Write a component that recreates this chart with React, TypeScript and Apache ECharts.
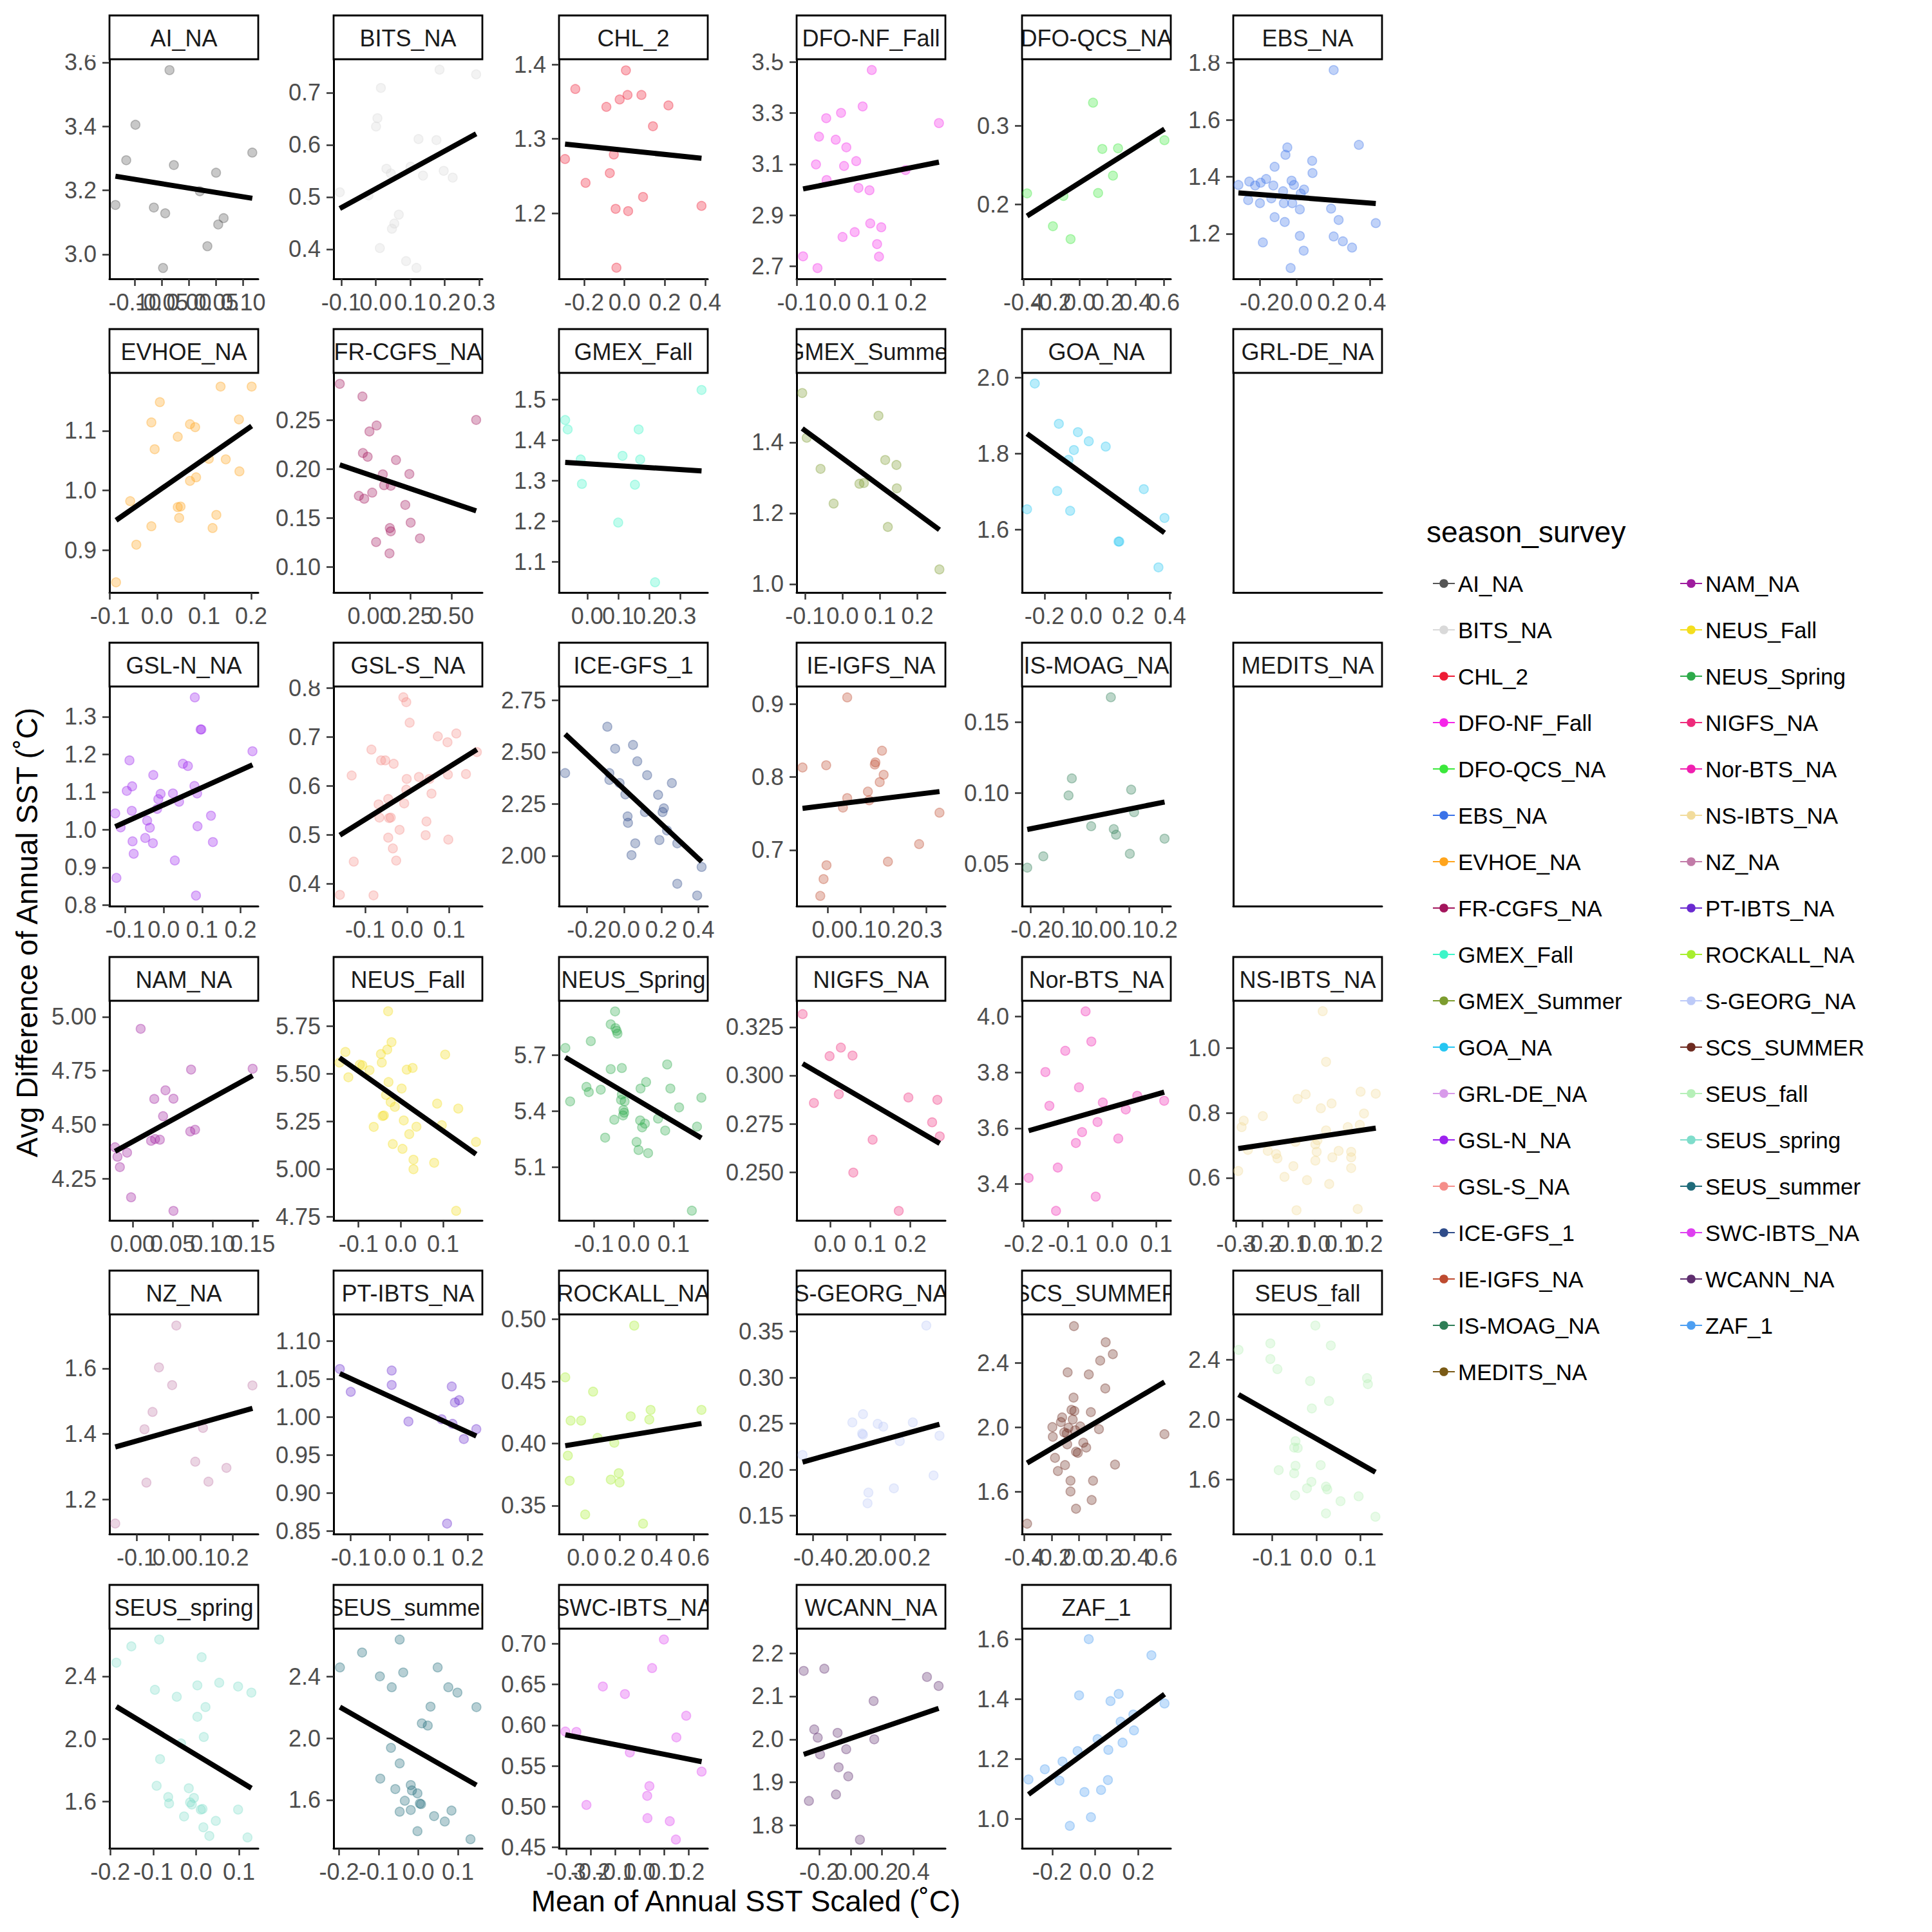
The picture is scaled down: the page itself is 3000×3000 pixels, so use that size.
import React, { useEffect, useRef } from "react";
import * as echarts from "echarts";

const FONT = '"Liberation Sans", Arial, Helvetica, sans-serif';

const SURVEYS = [
  "AI_NA", "BITS_NA", "CHL_2", "DFO-NF_Fall", "DFO-QCS_NA", "EBS_NA",
  "EVHOE_NA", "FR-CGFS_NA", "GMEX_Fall", "GMEX_Summer", "GOA_NA", "GRL-DE_NA",
  "GSL-N_NA", "GSL-S_NA", "ICE-GFS_1", "IE-IGFS_NA", "IS-MOAG_NA", "MEDITS_NA",
  "NAM_NA", "NEUS_Fall", "NEUS_Spring", "NIGFS_NA", "Nor-BTS_NA", "NS-IBTS_NA",
  "NZ_NA", "PT-IBTS_NA", "ROCKALL_NA", "S-GEORG_NA", "SCS_SUMMER", "SEUS_fall",
  "SEUS_spring", "SEUS_summer", "SWC-IBTS_NA", "WCANN_NA", "ZAF_1",
];

const SURVEY_COLORS = [
  "#555555", "#D9D9D9", "#EE1C35", "#F524E8", "#3BE83B", "#3A72E8",
  "#FFA41C", "#A3155C", "#3DF5C8", "#7C9C2E", "#25C6F2", "#D89AEA",
  "#9C22EE", "#F58E8A", "#2F4C8A", "#BE4B30", "#2E7E56", "#7A5A15",
  "#9E1C9E", "#F4DE1E", "#2DAA4A", "#EE2A7B", "#F01FB0", "#F2DC9C",
  "#C27BA8", "#6A2AD0", "#A7EE2E", "#BDCAF8", "#6E2B20", "#B6F0B8",
  "#7FDDCB", "#1F6B7A", "#DE3FF0", "#5E2D6E", "#4D9FF2",
];

const X_TITLE = "Mean of Annual SST Scaled (˚C)";
const Y_TITLE = "Avg Difference of Annual SST (˚C)";
const LEGEND_TITLE = "season_survey";

// ---------------- data per panel ----------------
const AI_NA_PTS = [[-0.136,3.154],[-0.116,3.294],[-0.099,3.405],[-0.065,3.146],[-0.044,3.128],[-0.048,2.957],[-0.036,3.576],[-0.028,3.279],[0.020,3.197],[0.034,3.025],[0.050,3.255],[0.054,3.093],[0.064,3.113],[0.117,3.318]];
const AI_NA_FIT = [3.244, 3.175];
const AI_NA_XR = [-0.147, 0.128];
const AI_NA_YR = [2.923, 3.610];
const AI_NA_XT = ["-0.10","-0.05","0.00","0.05","0.10"];
const AI_NA_YT = ["3.0","3.2","3.4","3.6"];

const BITS_NA_PTS = [[-0.104,0.509],[0.015,0.709],[0.005,0.651],[0.001,0.635],[0.031,0.554],[0.044,0.545],[0.067,0.466],[0.054,0.449],[0.047,0.439],[0.012,0.402],[-0.021,0.503],[0.101,0.558],[0.124,0.611],[0.137,0.541],[0.176,0.609],[0.197,0.550],[0.223,0.537],[0.185,0.744],[0.291,0.735],[0.088,0.377],[0.118,0.364]];
const BITS_NA_FIT = [0.478, 0.621];
const BITS_NA_XR = [-0.122, 0.309];
const BITS_NA_YR = [0.343, 0.764];
const BITS_NA_XT = ["-0.1","0.0","0.1","0.2","0.3"];
const BITS_NA_YT = ["0.4","0.5","0.6","0.7"];

const CHL_2_PTS = [[-0.295,1.273],[-0.244,1.367],[-0.193,1.241],[-0.090,1.343],[-0.073,1.254],[-0.053,1.279],[-0.044,1.206],[-0.040,1.127],[-0.024,1.353],[0.007,1.392],[0.015,1.359],[0.018,1.203],[0.084,1.359],[0.092,1.222],[0.141,1.317],[0.218,1.345],[0.382,1.210]];
const CHL_2_FIT = [1.293, 1.274];
const CHL_2_XR = [-0.325, 0.413];
const CHL_2_YR = [1.112, 1.407];
const CHL_2_XT = ["-0.2","0.0","0.2","0.4"];
const CHL_2_YT = ["1.2","1.3","1.4"];

const DFO_NF_PTS = [[-0.084,2.739],[-0.050,3.099],[-0.046,2.693],[-0.042,3.208],[-0.023,3.280],[-0.022,3.038],[0.002,3.196],[0.016,3.301],[0.020,2.815],[0.024,3.093],[0.030,3.166],[0.052,2.834],[0.056,3.112],[0.062,3.007],[0.073,3.326],[0.091,2.998],[0.093,2.868],[0.097,3.469],[0.111,2.787],[0.116,2.738],[0.122,2.853],[0.186,3.077],[0.274,3.261]];
const DFO_NF_FIT = [3.003, 3.108];
const DFO_NF_XR = [-0.101, 0.291];
const DFO_NF_YR = [2.651, 3.511];
const DFO_NF_XT = ["-0.1","0.0","0.1","0.2"];
const DFO_NF_YT = ["2.7","2.9","3.1","3.3","3.5"];

const DFO_QCS_PTS = [[-0.373,0.2142],[-0.189,0.1725],[-0.114,0.2109],[-0.063,0.1561],[0.097,0.3294],[0.133,0.2147],[0.163,0.2706],[0.239,0.2368],[0.275,0.2714],[0.606,0.2817]];
const DFO_QCS_FIT = [0.1856, 0.2959];
const DFO_QCS_XR = [-0.409, 0.651];
const DFO_QCS_YR = [0.1057, 0.3845];
const DFO_QCS_XT = ["-0.4","-0.2","0.0","0.2","0.4","0.6"];
const DFO_QCS_YT = ["0.2","0.3"];

const EBS_NA_PTS = [[-0.316,1.371],[-0.257,1.383],[-0.263,1.318],[-0.225,1.369],[-0.199,1.307],[-0.195,1.379],[-0.165,1.392],[-0.183,1.169],[-0.137,1.324],[-0.126,1.369],[-0.119,1.435],[-0.119,1.258],[-0.073,1.349],[-0.069,1.307],[-0.064,1.241],[-0.060,1.477],[-0.050,1.503],[-0.027,1.386],[-0.023,1.307],[-0.014,1.371],[0.018,1.192],[0.018,1.285],[0.023,1.341],[0.041,1.355],[0.039,1.140],[-0.032,1.079],[0.085,1.456],[0.087,1.413],[0.188,1.288],[0.202,1.190],[0.202,1.775],[0.229,1.248],[0.252,1.173],[0.302,1.151],[0.339,1.512],[0.431,1.237]];
const EBS_NA_FIT = [1.343, 1.306];
const EBS_NA_XR = [-0.344, 0.465];
const EBS_NA_YR = [1.041, 1.813];
const EBS_NA_XT = ["-0.2","0.0","0.2","0.4"];
const EBS_NA_YT = ["1.2","1.4","1.6","1.8"];

const EVHOE_PTS = [[-0.087,0.846],[-0.057,0.982],[-0.044,0.909],[-0.012,1.114],[-0.012,0.940],[-0.005,1.069],[0.006,1.148],[0.044,1.090],[0.044,0.972],[0.047,0.954],[0.050,0.973],[0.070,1.111],[0.070,1.016],[0.081,1.106],[0.083,1.022],[0.110,1.053],[0.118,0.937],[0.126,0.959],[0.135,1.174],[0.146,1.052],[0.174,1.119],[0.175,1.032],[0.201,1.174]];
const EVHOE_FIT = [0.950, 1.108];
const EVHOE_XR = [-0.101, 0.215];
const EVHOE_YR = [0.829, 1.197];
const EVHOE_XT = ["-0.1","0.0","0.1","0.2"];
const EVHOE_YT = ["0.9","1.0","1.1"];

const FR_CGFS_PTS = [[-0.185,0.2867],[-0.046,0.2738],[0.041,0.2443],[-0.003,0.2382],[-0.043,0.2163],[-0.014,0.2124],[-0.068,0.1726],[-0.035,0.1697],[0.014,0.1759],[0.079,0.1945],[0.087,0.1835],[0.128,0.1829],[0.160,0.2091],[0.242,0.1949],[0.217,0.1634],[0.250,0.1453],[0.122,0.1398],[0.128,0.1365],[0.038,0.1256],[0.120,0.1140],[0.307,0.1293],[0.652,0.2500]];
const FR_CGFS_FIT = [0.2043, 0.1573];
const FR_CGFS_XR = [-0.223, 0.690];
const FR_CGFS_YR = [0.0742, 0.2979];
const FR_CGFS_XT = ["0.00","0.25","0.50"];
const FR_CGFS_YT = ["0.10","0.15","0.20","0.25"];

const GMEX_FALL_PTS = [[-0.071,1.449],[-0.063,1.426],[-0.021,1.352],[-0.017,1.292],[0.100,1.197],[0.114,1.361],[0.166,1.426],[0.171,1.352],[0.154,1.290],[0.219,1.050],[0.369,1.523]];
const GMEX_FALL_FIT = [1.345, 1.324];
const GMEX_FALL_XR = [-0.091, 0.389];
const GMEX_FALL_YR = [1.025, 1.565];
const GMEX_FALL_XT = ["0.0","0.1","0.2","0.3"];
const GMEX_FALL_YT = ["1.1","1.2","1.3","1.4","1.5"];

const GMEX_SUMMER_PTS = [[-0.108,1.539],[-0.096,1.413],[-0.059,1.325],[-0.024,1.227],[0.045,1.283],[0.057,1.285],[0.096,1.475],[0.114,1.350],[0.144,1.336],[0.145,1.270],[0.121,1.161],[0.259,1.041]];
const GMEX_SUMMER_FIT = [1.439, 1.153];
const GMEX_SUMMER_XR = [-0.123, 0.275];
const GMEX_SUMMER_YR = [0.976, 1.596];
const GMEX_SUMMER_XT = ["-0.1","0.0","0.1","0.2"];
const GMEX_SUMMER_YT = ["1.0","1.2","1.4"];

const GOA_NA_PTS = [[-0.283,1.654],[-0.246,1.985],[-0.139,1.702],[-0.131,1.879],[-0.085,1.784],[-0.077,1.650],[-0.059,1.810],[-0.040,1.857],[0.012,1.833],[0.093,1.819],[0.154,1.569],[0.158,1.569],[0.275,1.707],[0.345,1.501],[0.374,1.631]];
const GOA_NA_FIT = [1.853, 1.592];
const GOA_NA_XR = [-0.307, 0.404];
const GOA_NA_YR = [1.435, 2.013];
const GOA_NA_XT = ["-0.2","0.0","0.2","0.4"];
const GOA_NA_YT = ["1.6","1.8","2.0"];

const GSL_N_PTS = [[-0.126,1.043],[-0.123,0.872],[-0.112,1.006],[-0.096,1.103],[-0.089,1.184],[-0.083,1.050],[-0.082,1.115],[-0.081,0.969],[-0.078,0.936],[-0.048,0.978],[-0.043,1.024],[-0.036,1.005],[-0.028,0.964],[-0.027,1.145],[-0.017,1.055],[-0.014,1.081],[-0.008,1.095],[0.024,1.096],[0.029,0.918],[0.040,1.074],[0.050,1.175],[0.063,1.169],[0.080,1.116],[0.081,1.351],[0.084,0.825],[0.087,1.096],[0.088,1.009],[0.096,1.266],[0.098,1.266],[0.123,1.037],[0.128,0.967],[0.231,1.208]];
const GSL_N_FIT = [1.008, 1.172];
const GSL_N_XR = [-0.141, 0.246];
const GSL_N_YR = [0.797, 1.380];
const GSL_N_XT = ["-0.1","0.0","0.1","0.2"];
const GSL_N_YT = ["0.8","0.9","1.0","1.1","1.2","1.3"];

const GSL_S_PTS = [[-0.160,0.377],[-0.132,0.621],[-0.127,0.445],[-0.085,0.674],[-0.080,0.376],[-0.062,0.652],[-0.052,0.652],[-0.068,0.562],[-0.066,0.535],[-0.045,0.573],[-0.043,0.534],[-0.039,0.535],[-0.045,0.494],[-0.034,0.472],[-0.032,0.645],[-0.026,0.447],[-0.018,0.510],[-0.009,0.781],[-0.002,0.771],[-0.007,0.564],[-0.001,0.614],[-0.002,0.592],[0.006,0.729],[0.028,0.618],[0.046,0.527],[0.044,0.499],[0.053,0.614],[0.058,0.584],[0.073,0.701],[0.096,0.689],[0.097,0.623],[0.098,0.490],[0.117,0.707],[0.140,0.624],[0.166,0.669]];
const GSL_S_FIT = [0.499, 0.674];
const GSL_S_XR = [-0.175, 0.179];
const GSL_S_YR = [0.354, 0.803];
const GSL_S_XT = ["-0.1","0.0","0.1"];
const GSL_S_YT = ["0.4","0.5","0.6","0.7","0.8"];

const ICE_GFS_PTS = [[-0.317,2.399],[-0.090,2.623],[-0.079,2.399],[-0.079,2.366],[-0.048,2.517],[-0.024,2.351],[0.007,2.296],[0.019,2.190],[0.021,2.159],[0.048,2.535],[0.040,2.003],[0.060,2.060],[0.071,2.456],[0.112,2.211],[0.124,2.389],[0.183,2.294],[0.190,2.076],[0.207,2.211],[0.214,2.229],[0.231,2.122],[0.257,2.351],[0.286,2.060],[0.286,1.865],[0.393,1.808],[0.417,1.946]];
const ICE_GFS_FIT = [2.587, 1.972];
const ICE_GFS_XR = [-0.350, 0.450];
const ICE_GFS_YR = [1.757, 2.817];
const ICE_GFS_XT = ["-0.2","0.0","0.2","0.4"];
const ICE_GFS_YT = ["2.00","2.25","2.50","2.75"];

const IE_IGFS_PTS = [[-0.077,0.813],[-0.023,0.637],[-0.013,0.660],[-0.005,0.816],[-0.004,0.679],[0.046,0.758],[0.059,0.771],[0.059,0.909],[0.122,0.780],[0.126,0.768],[0.145,0.820],[0.143,0.817],[0.158,0.793],[0.165,0.836],[0.170,0.803],[0.183,0.684],[0.278,0.708],[0.340,0.751]];
const IE_IGFS_FIT = [0.757, 0.780];
const IE_IGFS_XR = [-0.095, 0.358];
const IE_IGFS_YR = [0.623, 0.924];
const IE_IGFS_XT = ["0.0","0.1","0.2","0.3"];
const IE_IGFS_YT = ["0.7","0.8","0.9"];

const IS_MOAG_PTS = [[-0.210,0.0473],[-0.161,0.0553],[-0.084,0.0982],[-0.074,0.1102],[-0.015,0.0765],[0.045,0.1674],[0.054,0.0745],[0.061,0.0705],[0.103,0.0571],[0.107,0.1023],[0.116,0.0864],[0.209,0.0677]];
const IS_MOAG_FIT = [0.0742, 0.0936];
const IS_MOAG_XR = [-0.226, 0.228];
const IS_MOAG_YR = [0.0202, 0.175];
const IS_MOAG_XT = ["-0.2","-0.1","0.0","0.1","0.2"];
const IS_MOAG_YT = ["0.05","0.10","0.15"];

const NAM_NA_PTS = [[-0.022,4.395],[-0.019,4.351],[-0.016,4.303],[-0.007,4.370],[-0.002,4.163],[0.010,4.944],[0.023,4.425],[0.027,4.619],[0.028,4.433],[0.034,4.430],[0.038,4.539],[0.041,4.659],[0.051,4.620],[0.051,4.100],[0.072,4.468],[0.078,4.476],[0.073,4.755],[0.150,4.759]];
const NAM_NA_FIT = [4.376, 4.727];
const NAM_NA_XR = [-0.029, 0.157];
const NAM_NA_YR = [4.056, 5.074];
const NAM_NA_XT = ["0.00","0.05","0.10","0.15"];
const NAM_NA_YT = ["4.25","4.50","4.75","5.00"];

const NEUS_FALL_PTS = [[-0.145,5.558],[-0.131,5.614],[-0.124,5.481],[-0.097,5.547],[-0.091,5.544],[-0.074,5.518],[-0.064,5.221],[-0.047,5.603],[-0.045,5.558],[-0.043,5.278],[-0.040,5.281],[-0.032,5.626],[-0.030,5.827],[-0.029,5.456],[-0.022,5.665],[-0.035,5.388],[-0.024,5.351],[-0.019,5.131],[-0.014,5.326],[0.002,5.422],[0.004,5.106],[0.007,5.255],[0.014,5.521],[0.020,5.183],[0.028,5.530],[0.030,5.049],[0.030,4.999],[0.037,5.222],[0.079,5.033],[0.086,5.343],[0.097,5.230],[0.105,5.600],[0.131,4.781],[0.136,5.317],[0.178,5.142]];
const NEUS_FALL_FIT = [5.583, 5.078];
const NEUS_FALL_XR = [-0.159, 0.193];
const NEUS_FALL_YR = [4.731, 5.882];
const NEUS_FALL_XT = ["-0.1","0.0","0.1"];
const NEUS_FALL_YT = ["4.75","5.00","5.25","5.50","5.75"];

const NEUS_SPRING_PTS = [[-0.172,5.738],[-0.160,5.452],[-0.119,5.530],[-0.113,5.502],[-0.108,5.775],[-0.083,5.515],[-0.072,5.258],[-0.058,5.865],[-0.058,5.625],[-0.049,5.354],[-0.047,5.934],[-0.046,5.844],[-0.043,5.830],[-0.041,5.815],[-0.032,5.460],[-0.030,5.631],[-0.030,5.489],[-0.026,5.406],[-0.027,5.377],[-0.024,5.392],[-0.023,5.452],[0.007,5.235],[0.012,5.192],[0.017,5.521],[0.016,5.350],[0.021,5.313],[0.028,5.333],[0.031,5.556],[0.036,5.175],[0.061,5.360],[0.079,5.296],[0.084,5.650],[0.092,5.521],[0.114,5.420],[0.146,4.867],[0.159,5.317],[0.170,5.472]];
const NEUS_SPRING_FIT = [5.688, 5.256];
const NEUS_SPRING_XR = [-0.188, 0.186];
const NEUS_SPRING_YR = [4.815, 5.991];
const NEUS_SPRING_XT = ["-0.1","0.0","0.1"];
const NEUS_SPRING_YT = ["5.1","5.4","5.7"];

const NIGFS_PTS = [[-0.068,0.3317],[-0.040,0.2858],[-0.001,0.3100],[0.022,0.2903],[0.027,0.3144],[0.056,0.3103],[0.058,0.2498],[0.106,0.2668],[0.171,0.2300],[0.195,0.2886],[0.254,0.2758],[0.267,0.2874],[0.273,0.2685]];
const NIGFS_FIT = [0.3061, 0.2649];
const NIGFS_XR = [-0.083, 0.287];
const NIGFS_YR = [0.2251, 0.3386];
const NIGFS_XT = ["0.0","0.1","0.2"];
const NIGFS_YT = ["0.225","0.250","0.275","0.300","0.325"];

const NOR_BTS_PTS = [[-0.189,3.422],[-0.151,3.801],[-0.142,3.680],[-0.127,3.304],[-0.123,3.459],[-0.106,3.877],[-0.082,3.547],[-0.075,3.746],[-0.068,3.586],[-0.060,4.018],[-0.047,3.910],[-0.037,3.355],[-0.033,3.622],[-0.021,3.692],[0.014,3.563],[0.031,3.667],[0.057,3.716],[0.118,3.698]];
const NOR_BTS_FIT = [3.591, 3.729];
const NOR_BTS_XR = [-0.204, 0.133];
const NOR_BTS_YR = [3.270, 4.056];
const NOR_BTS_XT = ["-0.2","-0.1","0.0","0.1"];
const NOR_BTS_YT = ["3.4","3.6","3.8","4.0"];

const NS_IBTS_PTS = [[-0.292,0.621],[-0.279,0.756],[-0.271,0.776],[-0.255,0.686],[-0.198,0.790],[-0.179,0.683],[-0.147,0.673],[-0.142,0.660],[-0.115,0.603],[-0.081,0.636],[-0.073,0.711],[-0.065,0.843],[-0.069,0.500],[-0.034,0.857],[-0.029,0.593],[0.003,0.653],[0.003,0.703],[0.008,0.680],[0.011,0.716],[0.024,0.814],[0.031,1.113],[0.044,0.746],[0.044,0.957],[0.056,0.581],[0.065,0.829],[0.068,0.663],[0.092,0.683],[0.127,0.756],[0.140,0.680],[0.140,0.663],[0.140,0.630],[0.165,0.504],[0.173,0.763],[0.176,0.865],[0.189,0.798],[0.234,0.859]];
const NS_IBTS_FIT = [0.690, 0.753];
const NS_IBTS_XR = [-0.311, 0.258];
const NS_IBTS_YR = [0.469, 1.145];
const NS_IBTS_XT = ["-0.3","-0.2","-0.1","0.0","0.1","0.2"];
const NS_IBTS_YT = ["0.6","0.8","1.0"];

const NZ_NA_PTS = [[-0.166,1.126],[-0.075,1.414],[-0.069,1.251],[-0.050,1.467],[-0.030,1.603],[0.011,1.549],[0.024,1.731],[0.083,1.315],[0.107,1.418],[0.124,1.254],[0.180,1.296],[0.261,1.548]];
const NZ_NA_FIT = [1.360, 1.478];
const NZ_NA_XR = [-0.184, 0.279];
const NZ_NA_YR = [1.094, 1.765];
const NZ_NA_XT = ["-0.1","0.0","0.1","0.2"];
const NZ_NA_YT = ["1.2","1.4","1.6"];

const PT_IBTS_PTS = [[-0.128,1.063],[-0.100,1.033],[0.005,1.061],[0.005,1.042],[0.048,0.994],[0.133,0.997],[0.147,0.860],[0.159,1.040],[0.161,0.991],[0.167,1.019],[0.178,1.022],[0.190,0.971],[0.222,0.984]];
const PT_IBTS_FIT = [1.057, 0.975];
const PT_IBTS_XR = [-0.144, 0.2375];
const PT_IBTS_YR = [0.8463, 1.1347];
const PT_IBTS_XT = ["-0.1","0.0","0.1","0.2"];
const PT_IBTS_YT = ["0.85","0.90","0.95","1.00","1.05","1.10"];

const ROCKALL_PTS = [[-0.096,0.4532],[-0.082,0.3902],[-0.072,0.3700],[-0.067,0.4184],[-0.010,0.4184],[0.012,0.3429],[0.055,0.4417],[0.079,0.4045],[0.151,0.3709],[0.170,0.4006],[0.194,0.3761],[0.199,0.3686],[0.259,0.4218],[0.278,0.4948],[0.326,0.3355],[0.360,0.4192],[0.367,0.4270],[0.643,0.4270]];
const ROCKALL_FIT = [0.3982, 0.4161];
const ROCKALL_XR = [-0.130, 0.677];
const ROCKALL_YR = [0.3272, 0.5038];
const ROCKALL_XT = ["0.0","0.2","0.4","0.6"];
const ROCKALL_YT = ["0.35","0.40","0.45","0.50"];

const S_GEORG_PTS = [[-0.463,0.2160],[-0.168,0.2514],[-0.105,0.2603],[-0.110,0.2393],[-0.105,0.2381],[-0.018,0.2498],[0.015,0.2467],[-0.073,0.1752],[-0.078,0.1635],[0.078,0.1798],[0.113,0.2311],[0.190,0.2514],[0.270,0.3565],[0.313,0.1938],[0.348,0.2369]];
const S_GEORG_FIT = [0.2083, 0.2493];
const S_GEORG_XR = [-0.498, 0.383];
const S_GEORG_YR = [0.1302, 0.3686];
const S_GEORG_XT = ["-0.4","-0.2","0.0","0.2"];
const S_GEORG_YT = ["0.15","0.20","0.25","0.30","0.35"];

const SCS_PTS = [[-0.378,1.400],[-0.194,2.000],[-0.191,1.940],[-0.175,1.809],[-0.154,1.727],[-0.132,2.031],[-0.123,2.060],[-0.108,1.967],[-0.102,1.764],[-0.089,1.960],[-0.086,1.893],[-0.083,2.340],[-0.077,1.996],[-0.062,1.667],[-0.062,1.600],[-0.055,2.107],[-0.046,2.047],[-0.040,2.183],[-0.037,2.627],[-0.034,2.100],[-0.028,1.980],[-0.022,1.493],[-0.022,1.847],[-0.009,1.840],[0.009,2.004],[0.031,1.903],[0.052,1.873],[0.071,2.327],[0.086,2.093],[0.102,1.667],[0.092,1.547],[0.145,1.987],[0.154,2.413],[0.191,2.240],[0.194,2.527],[0.246,2.453],[0.262,1.767],[0.622,1.956]];
const SCS_FIT = [1.777, 2.280];
const SCS_XR = [-0.415, 0.668];
const SCS_YR = [1.336, 2.700];
const SCS_XT = ["-0.4","-0.2","0.0","0.2","0.4","0.6"];
const SCS_YT = ["1.6","2.0","2.4"];

const SEUS_FALL_PTS = [[-0.176,2.464],[-0.104,2.507],[-0.104,2.403],[-0.088,2.336],[-0.085,1.664],[-0.050,1.814],[-0.047,1.857],[-0.050,1.643],[-0.047,1.693],[-0.042,1.811],[-0.048,1.497],[-0.021,1.543],[-0.014,2.257],[-0.011,1.586],[-0.010,2.074],[-0.002,2.626],[0.010,1.697],[0.022,1.554],[0.025,1.536],[0.022,1.376],[0.029,2.124],[0.033,2.493],[0.055,1.457],[0.096,1.490],[0.115,2.276],[0.117,2.236],[0.134,1.354]];
const SEUS_FALL_FIT = [2.167, 1.650];
const SEUS_FALL_XR = [-0.188, 0.149];
const SEUS_FALL_YR = [1.239, 2.700];
const SEUS_FALL_XT = ["-0.1","0.0","0.1"];
const SEUS_FALL_YT = ["1.6","2.0","2.4"];

const SEUS_SPRING_PTS = [[-0.186,2.487],[-0.151,2.591],[-0.096,2.314],[-0.092,1.702],[-0.086,2.635],[-0.084,1.872],[-0.065,1.630],[-0.063,1.589],[-0.045,2.270],[-0.035,1.972],[-0.028,1.506],[-0.017,1.686],[-0.014,1.596],[-0.010,1.582],[-0.005,1.624],[0.003,2.342],[0.003,2.142],[0.013,2.522],[0.011,1.550],[0.015,1.554],[0.017,1.437],[0.018,2.013],[0.022,2.204],[0.031,1.382],[0.046,1.478],[0.054,2.359],[0.098,2.335],[0.098,1.550],[0.120,1.372],[0.129,2.296]];
const SEUS_SPRING_FIT = [2.207, 1.686];
const SEUS_SPRING_XR = [-0.202, 0.145];
const SEUS_SPRING_YR = [1.303, 2.704];
const SEUS_SPRING_XT = ["-0.2","-0.1","0.0","0.1"];
const SEUS_SPRING_YT = ["1.6","2.0","2.4"];

const SEUS_SUMMER_PTS = [[-0.198,2.461],[-0.142,2.558],[-0.097,2.403],[-0.067,2.332],[-0.047,2.642],[-0.038,2.428],[-0.069,1.938],[-0.047,1.837],[-0.096,1.738],[-0.058,1.670],[-0.019,1.696],[-0.016,1.661],[-0.002,1.642],[-0.034,1.594],[-0.047,1.523],[-0.019,1.534],[0.004,1.576],[0.007,1.572],[0.009,2.097],[0.024,2.083],[0.031,2.206],[0.040,1.494],[0.049,2.461],[0.067,1.459],[0.076,2.332],[0.084,1.530],[0.099,2.297],[-0.002,1.396],[0.132,1.344],[0.147,2.203]];
const SEUS_SUMMER_FIT = [2.203, 1.696];
const SEUS_SUMMER_XR = [-0.214, 0.162];
const SEUS_SUMMER_YR = [1.285, 2.713];
const SEUS_SUMMER_XT = ["-0.2","-0.1","0.0","0.1"];
const SEUS_SUMMER_YT = ["1.6","2.0","2.4"];

const SWC_IBTS_PTS = [[-0.303,0.5923],[-0.258,0.5918],[-0.217,0.5021],[-0.150,0.6476],[-0.060,0.6383],[-0.040,0.5665],[0.040,0.5253],[0.031,0.5133],[0.032,0.4859],[0.051,0.6702],[0.099,0.7053],[0.123,0.4822],[0.148,0.4596],[0.150,0.5851],[0.190,0.6117],[0.253,0.5431]];
const SWC_IBTS_FIT = [0.5883, 0.5553];
const SWC_IBTS_XR = [-0.329, 0.278];
const SWC_IBTS_YR = [0.4489, 0.7186];
const SWC_IBTS_XT = ["-0.3","-0.2","-0.1","0.0","0.1","0.2"];
const SWC_IBTS_YT = ["0.45","0.50","0.55","0.60","0.65","0.70"];

const WCANN_PTS = [[-0.298,2.159],[-0.265,1.857],[-0.231,2.023],[-0.209,2.004],[-0.194,1.965],[-0.167,2.164],[-0.093,1.872],[-0.083,2.015],[-0.076,1.935],[-0.028,1.977],[-0.015,1.914],[0.059,1.767],[0.146,2.089],[0.150,2.000],[0.485,2.145],[0.559,2.124]];
const WCANN_FIT = [1.965, 2.072];
const WCANN_XR = [-0.343, 0.602];
const WCANN_YR = [1.747, 2.257];
const WCANN_XT = ["-0.2","0.0","0.2","0.4"];
const WCANN_YT = ["1.8","1.9","2.0","2.1","2.2"];

const ZAF_1_PTS = [[-0.310,1.131],[-0.234,1.165],[-0.166,1.127],[-0.152,1.191],[-0.118,0.976],[-0.082,1.226],[-0.075,1.412],[-0.050,1.089],[-0.030,1.600],[-0.020,1.005],[0.011,1.266],[0.027,1.096],[0.059,1.129],[0.061,1.230],[0.071,1.393],[0.109,1.417],[0.118,1.324],[0.127,1.254],[0.177,1.348],[0.180,1.295],[0.261,1.546],[0.322,1.385]];
const ZAF_1_FIT = [1.081, 1.416];
const ZAF_1_XR = [-0.340, 0.351];
const ZAF_1_YR = [0.901, 1.635];
const ZAF_1_XT = ["-0.2","0.0","0.2"];
const ZAF_1_YT = ["1.0","1.2","1.4","1.6"];

type Panel = { pts: number[][]; fit: number[]; xr: number[]; yr: number[]; xt: string[]; yt: string[] };
const mk = (pts: number[][], fit: number[], xr: number[], yr: number[], xt: string[], yt: string[]): Panel => ({ pts, fit, xr, yr, xt, yt });

const PANELS: Record<string, Panel | null> = {
  "AI_NA": mk(AI_NA_PTS, AI_NA_FIT, AI_NA_XR, AI_NA_YR, AI_NA_XT, AI_NA_YT),
  "BITS_NA": mk(BITS_NA_PTS, BITS_NA_FIT, BITS_NA_XR, BITS_NA_YR, BITS_NA_XT, BITS_NA_YT),
  "CHL_2": mk(CHL_2_PTS, CHL_2_FIT, CHL_2_XR, CHL_2_YR, CHL_2_XT, CHL_2_YT),
  "DFO-NF_Fall": mk(DFO_NF_PTS, DFO_NF_FIT, DFO_NF_XR, DFO_NF_YR, DFO_NF_XT, DFO_NF_YT),
  "DFO-QCS_NA": mk(DFO_QCS_PTS, DFO_QCS_FIT, DFO_QCS_XR, DFO_QCS_YR, DFO_QCS_XT, DFO_QCS_YT),
  "EBS_NA": mk(EBS_NA_PTS, EBS_NA_FIT, EBS_NA_XR, EBS_NA_YR, EBS_NA_XT, EBS_NA_YT),
  "EVHOE_NA": mk(EVHOE_PTS, EVHOE_FIT, EVHOE_XR, EVHOE_YR, EVHOE_XT, EVHOE_YT),
  "FR-CGFS_NA": mk(FR_CGFS_PTS, FR_CGFS_FIT, FR_CGFS_XR, FR_CGFS_YR, FR_CGFS_XT, FR_CGFS_YT),
  "GMEX_Fall": mk(GMEX_FALL_PTS, GMEX_FALL_FIT, GMEX_FALL_XR, GMEX_FALL_YR, GMEX_FALL_XT, GMEX_FALL_YT),
  "GMEX_Summer": mk(GMEX_SUMMER_PTS, GMEX_SUMMER_FIT, GMEX_SUMMER_XR, GMEX_SUMMER_YR, GMEX_SUMMER_XT, GMEX_SUMMER_YT),
  "GOA_NA": mk(GOA_NA_PTS, GOA_NA_FIT, GOA_NA_XR, GOA_NA_YR, GOA_NA_XT, GOA_NA_YT),
  "GRL-DE_NA": null,
  "GSL-N_NA": mk(GSL_N_PTS, GSL_N_FIT, GSL_N_XR, GSL_N_YR, GSL_N_XT, GSL_N_YT),
  "GSL-S_NA": mk(GSL_S_PTS, GSL_S_FIT, GSL_S_XR, GSL_S_YR, GSL_S_XT, GSL_S_YT),
  "ICE-GFS_1": mk(ICE_GFS_PTS, ICE_GFS_FIT, ICE_GFS_XR, ICE_GFS_YR, ICE_GFS_XT, ICE_GFS_YT),
  "IE-IGFS_NA": mk(IE_IGFS_PTS, IE_IGFS_FIT, IE_IGFS_XR, IE_IGFS_YR, IE_IGFS_XT, IE_IGFS_YT),
  "IS-MOAG_NA": mk(IS_MOAG_PTS, IS_MOAG_FIT, IS_MOAG_XR, IS_MOAG_YR, IS_MOAG_XT, IS_MOAG_YT),
  "MEDITS_NA": null,
  "NAM_NA": mk(NAM_NA_PTS, NAM_NA_FIT, NAM_NA_XR, NAM_NA_YR, NAM_NA_XT, NAM_NA_YT),
  "NEUS_Fall": mk(NEUS_FALL_PTS, NEUS_FALL_FIT, NEUS_FALL_XR, NEUS_FALL_YR, NEUS_FALL_XT, NEUS_FALL_YT),
  "NEUS_Spring": mk(NEUS_SPRING_PTS, NEUS_SPRING_FIT, NEUS_SPRING_XR, NEUS_SPRING_YR, NEUS_SPRING_XT, NEUS_SPRING_YT),
  "NIGFS_NA": mk(NIGFS_PTS, NIGFS_FIT, NIGFS_XR, NIGFS_YR, NIGFS_XT, NIGFS_YT),
  "Nor-BTS_NA": mk(NOR_BTS_PTS, NOR_BTS_FIT, NOR_BTS_XR, NOR_BTS_YR, NOR_BTS_XT, NOR_BTS_YT),
  "NS-IBTS_NA": mk(NS_IBTS_PTS, NS_IBTS_FIT, NS_IBTS_XR, NS_IBTS_YR, NS_IBTS_XT, NS_IBTS_YT),
  "NZ_NA": mk(NZ_NA_PTS, NZ_NA_FIT, NZ_NA_XR, NZ_NA_YR, NZ_NA_XT, NZ_NA_YT),
  "PT-IBTS_NA": mk(PT_IBTS_PTS, PT_IBTS_FIT, PT_IBTS_XR, PT_IBTS_YR, PT_IBTS_XT, PT_IBTS_YT),
  "ROCKALL_NA": mk(ROCKALL_PTS, ROCKALL_FIT, ROCKALL_XR, ROCKALL_YR, ROCKALL_XT, ROCKALL_YT),
  "S-GEORG_NA": mk(S_GEORG_PTS, S_GEORG_FIT, S_GEORG_XR, S_GEORG_YR, S_GEORG_XT, S_GEORG_YT),
  "SCS_SUMMER": mk(SCS_PTS, SCS_FIT, SCS_XR, SCS_YR, SCS_XT, SCS_YT),
  "SEUS_fall": mk(SEUS_FALL_PTS, SEUS_FALL_FIT, SEUS_FALL_XR, SEUS_FALL_YR, SEUS_FALL_XT, SEUS_FALL_YT),
  "SEUS_spring": mk(SEUS_SPRING_PTS, SEUS_SPRING_FIT, SEUS_SPRING_XR, SEUS_SPRING_YR, SEUS_SPRING_XT, SEUS_SPRING_YT),
  "SEUS_summer": mk(SEUS_SUMMER_PTS, SEUS_SUMMER_FIT, SEUS_SUMMER_XR, SEUS_SUMMER_YR, SEUS_SUMMER_XT, SEUS_SUMMER_YT),
  "SWC-IBTS_NA": mk(SWC_IBTS_PTS, SWC_IBTS_FIT, SWC_IBTS_XR, SWC_IBTS_YR, SWC_IBTS_XT, SWC_IBTS_YT),
  "WCANN_NA": mk(WCANN_PTS, WCANN_FIT, WCANN_XR, WCANN_YR, WCANN_XT, WCANN_YT),
  "ZAF_1": mk(ZAF_1_PTS, ZAF_1_FIT, ZAF_1_XR, ZAF_1_YR, ZAF_1_XT, ZAF_1_YT),
};

// ---------------- layout ----------------
const COL_LEFT = [170, 518, 868, 1237, 1587, 1915];
const PANEL_W = 231;
const ROW_TOP = [24, 511, 998, 1486, 1973, 2461];
const STRIP_H = 68;
const PANEL_H = 341;

function rgba(hex: string, a: number) {
  const h = hex.replace("#", "");
  const r = parseInt(h.slice(0, 2), 16), g = parseInt(h.slice(2, 4), 16), b = parseInt(h.slice(4, 6), 16);
  return `rgba(${r},${g},${b},${a})`;
}

function labelFmt(ticks: string[]) {
  return (v: number) => {
    const t = ticks.find((s) => Math.abs(parseFloat(s) - v) < 1e-7);
    return t === undefined ? "" : t;
  };
}

function buildOption() {
  const grid: any[] = [], xAxis: any[] = [], yAxis: any[] = [], series: any[] = [], graphic: any[] = [];
  const axisLine = { show: true, onZero: false, lineStyle: { color: "#000", width: 3 } };
  const tickStyle = { color: "#333", width: 2.5 };
  const labelStyle = { color: "#4D4D4D", fontSize: 36, fontFamily: FONT, hideOverlap: false, showMinLabel: true, showMaxLabel: true };

  SURVEYS.forEach((name, i) => {
    const r = Math.floor(i / 6), c = i % 6;
    const L = COL_LEFT[c], T = ROW_TOP[r];
    const color = SURVEY_COLORS[i];
    grid.push({ left: L, top: T + STRIP_H, width: PANEL_W, height: PANEL_H, containLabel: false });
    const p = PANELS[name];
    if (p) {
      const xv = p.xt.map(parseFloat), yv = p.yt.map(parseFloat);
      // x tick labels are split over two coincident axes (even / odd ticks) so that
      // ECharts does not drop labels that touch, as they do in the reference
      const xEven = xv.filter((_, k) => k % 2 === 0);
      const xOdd = xv.filter((_, k) => k % 2 === 1);
      xAxis.push({
        type: "value", gridIndex: i, position: "bottom", min: p.xr[0], max: p.xr[1],
        axisLine, splitLine: { show: false },
        axisTick: { show: true, length: 11, lineStyle: tickStyle, customValues: xv },
        axisLabel: { ...labelStyle, show: true, customValues: xEven, formatter: labelFmt(p.xt), margin: 18 },
      });
      xAxis.push({
        type: "value", gridIndex: i, position: "bottom", offset: 0, min: p.xr[0], max: p.xr[1],
        axisLine: { show: false }, splitLine: { show: false }, axisTick: { show: false },
        axisLabel: { ...labelStyle, show: xOdd.length > 0, customValues: xOdd, formatter: labelFmt(p.xt), margin: 18 },
      });
      yAxis.push({
        type: "value", gridIndex: i, position: "left", min: p.yr[0], max: p.yr[1],
        axisLine, splitLine: { show: false },
        axisTick: { show: true, length: 11, lineStyle: tickStyle, customValues: yv },
        axisLabel: { ...labelStyle, show: true, customValues: yv, formatter: labelFmt(p.yt), margin: 20 },
      });
    } else {
      xAxis.push({ type: "value", gridIndex: i, position: "bottom", min: 0, max: 1, axisLine, splitLine: { show: false }, axisTick: { show: false }, axisLabel: { show: false } });
      xAxis.push({ type: "value", gridIndex: i, position: "bottom", min: 0, max: 1, axisLine: { show: false }, splitLine: { show: false }, axisTick: { show: false }, axisLabel: { show: false } });
      yAxis.push({ type: "value", gridIndex: i, position: "left", min: 0, max: 1, axisLine, splitLine: { show: false }, axisTick: { show: false }, axisLabel: { show: false } });
    }
    const xi = 2 * i;
    // legend carrier series (line + point key)
    series.push({
      type: "line", name, xAxisIndex: xi, yAxisIndex: i, data: [],
      color, symbol: "circle", symbolSize: 14,
      itemStyle: { color }, lineStyle: { color, width: 3.5 },
    });
    if (p) {
      series.push({
        type: "scatter", name: "pts " + name, xAxisIndex: xi, yAxisIndex: i, data: p.pts,
        symbol: "circle", symbolSize: 14, silent: true, z: 2,
        itemStyle: { color: rgba(color, 0.4), borderColor: rgba(color, 0.45), borderWidth: 1.6 },
      });
      const xs = p.pts.map((d) => d[0]);
      const x0 = Math.min(...xs), x1 = Math.max(...xs);
      series.push({
        type: "line", name: "fit " + name, xAxisIndex: xi, yAxisIndex: i,
        data: [[x0, p.fit[0]], [x1, p.fit[1]]],
        symbol: "none", silent: true, z: 3,
        lineStyle: { color: "#000", width: 8, cap: "butt" },
      });
    }
    // strip
    graphic.push({ type: "rect", silent: true, z: 10, shape: { x: L, y: T, width: PANEL_W, height: STRIP_H }, style: { fill: "#fff" } });
    graphic.push({
      type: "text", silent: true, z: 11, x: L + PANEL_W / 2, y: T + STRIP_H / 2 + 1,
      style: { text: name, fill: "#1A1A1A", fontSize: 36, fontFamily: FONT, align: "center", verticalAlign: "middle" },
    });
    graphic.push({ type: "rect", silent: true, z: 12, shape: { x: L - 34, y: T + 6, width: 33, height: STRIP_H - 12 }, style: { fill: "#fff" } });
    graphic.push({ type: "rect", silent: true, z: 12, shape: { x: L + PANEL_W + 1, y: T + 6, width: 33, height: STRIP_H - 12 }, style: { fill: "#fff" } });
    graphic.push({ type: "rect", silent: true, z: 13, shape: { x: L, y: T, width: PANEL_W, height: STRIP_H }, style: { fill: "none", stroke: "#000", lineWidth: 2.8 } });
  });

  // axis titles and legend title
  graphic.push({
    type: "text", silent: true, z: 20, x: 1158, y: 2952,
    style: { text: X_TITLE, fill: "#000", fontSize: 46, fontFamily: FONT, align: "center", verticalAlign: "middle" },
  });
  graphic.push({
    type: "text", silent: true, z: 20, x: 42, y: 1448, rotation: Math.PI / 2,
    style: { text: Y_TITLE, fill: "#000", fontSize: 46, fontFamily: FONT, align: "center", verticalAlign: "middle" },
  });
  graphic.push({
    type: "text", silent: true, z: 20, x: 2215, y: 826,
    style: { text: LEGEND_TITLE, fill: "#000", fontSize: 46, fontFamily: FONT, align: "left", verticalAlign: "middle" },
  });

  const legendBase = {
    orient: "vertical", top: 881, itemWidth: 34, itemHeight: 17, itemGap: 32, selectedMode: false,
    textStyle: { fontSize: 35, lineHeight: 40, color: "#000", fontFamily: FONT },
  };
  const legend = [
    { ...legendBase, left: 2219, data: SURVEYS.slice(0, 18) },
    { ...legendBase, left: 2603, data: SURVEYS.slice(18) },
  ];

  return { animation: false, backgroundColor: "#fff", grid, xAxis, yAxis, series, graphic, legend };
}

export default function App() {
  const ref = useRef<HTMLDivElement>(null);
  useEffect(() => {
    if (!ref.current) return;
    const chart = echarts.init(ref.current, null, { renderer: "svg" });
    chart.setOption(buildOption() as any);
    return () => chart.dispose();
  }, []);
  return <div ref={ref} style={{ position: "absolute", left: 0, top: 0, width: 3000, height: 3000, background: "#fff" }} />;
}
